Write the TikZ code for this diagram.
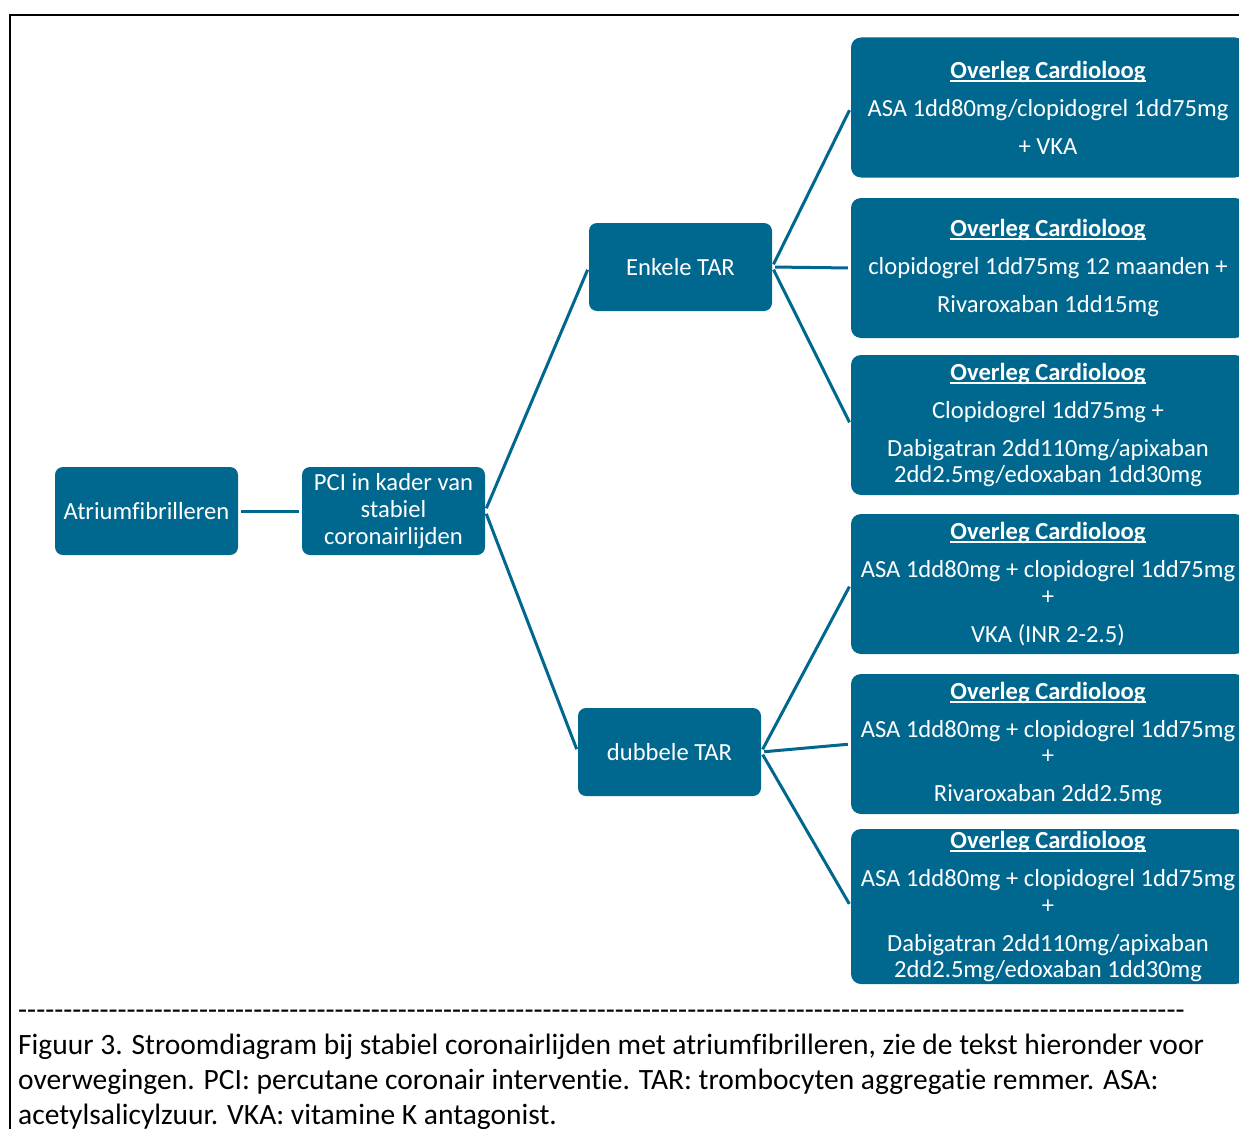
\documentclass[tikz,border=0pt]{standalone}
\usepackage{fontspec}
\setmainfont[Ligatures=NoCommon]{Carlito}
\definecolor{boxblue}{RGB}{0,104,143}
% underlined heading with a thicker rule
\newcommand\ulhead[1]{\setbox0\hbox{#1}\rlap{\rule[-3.5pt]{\wd0}{1.8pt}}\box0}
\begin{document}
\begin{tikzpicture}[x=1pt,y=-1pt,
  box/.style={fill=boxblue, text=white, rounded corners=8pt, inner sep=0pt,
    align=center, font=\fontsize{24.6}{27}\selectfont},
  smallbox/.style={box, minimum width=183pt, minimum height=88pt},
  bigbox/.style={box, minimum width=394pt, minimum height=140pt,
    rounded corners=10pt, font=\fontsize{24.6}{26.5}\selectfont},
  link/.style={draw=boxblue, line width=3pt, shorten <=3pt, shorten >=3pt},
  captxt/.style={anchor=base west, inner sep=0pt, font=\fontsize{29.5}{35}\selectfont}]
\clip (0,0) rectangle (1239,1129);
\fill[white] (0,0) rectangle (1239,1129);

% outer frame
\draw[line width=2pt] (10,1140) -- (10,15) -- (1260,15);

% left part of the tree
\node[smallbox] (af) at (146.5,511) {Atriumfibrilleren};
\node[smallbox] (pci) at (393.5,511) {PCI in kader van\\stabiel\\coronairlijden};
\node[smallbox] (enk) at (680.5,267) {Enkele TAR};
\node[smallbox] (dub) at (669.5,752) {dubbele TAR};

% treatment options
\newcommand\ov{\ulhead{\textbf{Overleg Cardioloog}}}
\node[bigbox] (b1) at (1048,107.5) {\ov\\[11.5pt]ASA 1dd80mg/clopidogrel 1dd75mg\\[11.5pt]+ VKA};
\node[bigbox] (b2) at (1048,268) {\ov\\[11.5pt]clopidogrel 1dd75mg 12 maanden +\\[11.5pt]Rivaroxaban 1dd15mg};
\node[bigbox] (b3) at (1048,425) {\ov\\[11.5pt]Clopidogrel 1dd75mg +\\[11.5pt]Dabigatran 2dd110mg/apixaban\\2dd2.5mg/edoxaban 1dd30mg};
\node[bigbox] (b4) at (1048,584) {\ov\\[11.5pt]ASA 1dd80mg + clopidogrel 1dd75mg\\+\\[11.5pt]VKA (INR 2-2.5)};
\node[bigbox] (b5) at (1048,744) {\ov\\[11.5pt]ASA 1dd80mg + clopidogrel 1dd75mg\\+\\[11.5pt]Rivaroxaban 2dd2.5mg};
\node[bigbox, minimum height=155pt] (b6) at (1048,906.5) {\ov\\[11.5pt]ASA 1dd80mg + clopidogrel 1dd75mg\\+\\[11.5pt]Dabigatran 2dd110mg/apixaban\\2dd2.5mg/edoxaban 1dd30mg};

% connectors
\draw[link] (af.east) -- (pci.west);
\draw[link] (pci.east) -- (enk.west);
\draw[link] (pci.east) -- (dub.west);
\draw[link] (enk.east) -- (b1.west);
\draw[link] (enk.east) -- (b2.west);
\draw[link] (enk.east) -- (b3.west);
\draw[link] (dub.east) -- (b4.west);
\draw[link] (dub.east) -- (b5.west);
\draw[link] (dub.east) -- (b6.west);

% caption
\node[captxt] (dash) at (18,1019) {\hbox to 1167pt{\xleaders\hbox{-}\hfill}};
\node[captxt] (cap1) at (18,1054) {Figuur 3. Stroomdiagram bij stabiel coronairlijden met atriumfibrilleren, zie de tekst hieronder voor};
\node[captxt] (cap2) at (18,1089) {overwegingen. PCI: percutane coronair interventie. TAR: trombocyten aggregatie remmer. ASA:};
\node[captxt] (cap3) at (18,1124) {acetylsalicylzuur. VKA: vitamine K antagonist.};
\end{tikzpicture}
\end{document}
